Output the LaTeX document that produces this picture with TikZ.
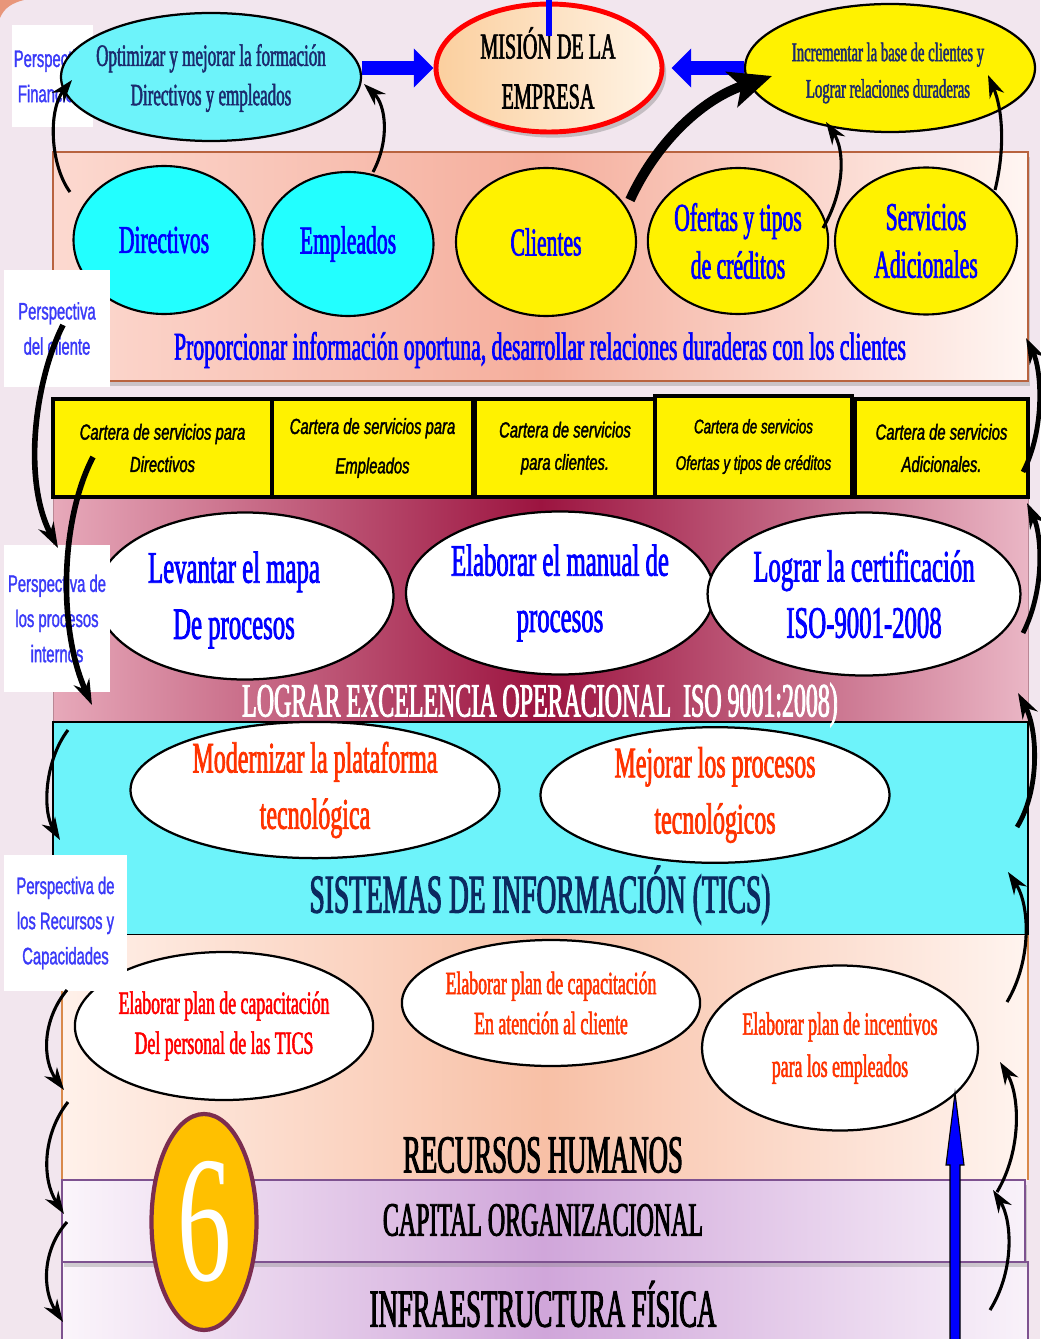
\documentclass[tikz,border=0pt]{standalone}
\usepackage{fontspec}
\usepackage{graphicx}
\usetikzlibrary{arrows.meta,shapes.geometric,shadows}
\newfontfamily\cnd[FakeStretch=0.55,FakeBold=1.6]{Liberation Serif}
\newfontfamily\cndh[FakeStretch=0.5,FakeBold=1.8]{Liberation Serif}
\newfontfamily\narrowsans[FakeStretch=0.62,FakeBold=1.2]{Liberation Sans}
\newfontfamily\cartfont[FakeStretch=0.68,FakeBold=1.6]{Liberation Sans}
\newfontfamily\digitfont[FakeStretch=0.6]{Liberation Serif}
\newcommand\fs[2]{\fontsize{#1}{#2}\selectfont}
\definecolor{bgc}{HTML}{F2E6EE}
\definecolor{persp}{HTML}{3A3AF8}
\definecolor{navy}{HTML}{1B2A6E}
\definecolor{navyB}{HTML}{0B2A60}
\definecolor{aqua}{HTML}{6DF3FA}
\definecolor{aquaB}{HTML}{22FFFF}
\definecolor{redor}{HTML}{FF3300}
\definecolor{gold}{HTML}{FFC000}
\definecolor{plum}{HTML}{7B2D4F}
\definecolor{brownedge}{HTML}{B8633F}
\definecolor{orangeedge}{HTML}{D9894A}
\definecolor{purpleedge}{HTML}{7E5290}
\definecolor{pinkL}{HTML}{FCD9D0}
\definecolor{pinkM}{HTML}{F5AE9C}
\definecolor{pinkR}{HTML}{FFF6F3}
\definecolor{marL}{HTML}{E7A9BA}
\definecolor{marM}{HTML}{9C1440}
\definecolor{marR}{HTML}{EAB6C5}
\definecolor{peachL}{HTML}{FFF1EA}
\definecolor{peachM}{HTML}{F8C0A6}
\definecolor{peachR}{HTML}{FFF4EF}
\definecolor{lavL}{HTML}{FBF5FB}
\definecolor{lavM}{HTML}{D0A6DA}
\definecolor{lavR}{HTML}{F9F2FA}
\definecolor{misL}{HTML}{FBCF9E}
\definecolor{misR}{HTML}{FFF4E6}
\definecolor{cornerc}{HTML}{E8967A}

\begin{document}
\begin{tikzpicture}[x=0.025cm,y=-0.025cm,
  ell/.style 2 args={ellipse,inner sep=0pt,minimum width=#1*0.025cm,minimum height=#2*0.025cm,align=center},
  outline/.style={draw=black,line width=1.6pt},
  persbox/.style 2 args={fill=white,inner sep=0pt,minimum width=#1*0.025cm,minimum height=#2*0.025cm,
    text=persp,font=\narrowsans\fs{17}{25},align=center},
  cartbox/.style 2 args={draw=black,line width=2.6pt,fill=yellow,inner sep=0pt,
    minimum width=#1*0.025cm,minimum height=#2*0.025cm,align=center,font=\cartfont\itshape\fs{15.5}{23}},
  thinarrow/.style={line width=2.2pt,-{Stealth[length=16pt,width=11pt]}},
  heavyarrow/.style={line width=3.4pt,-{Stealth[length=18pt,width=12pt]}},
  bigarrow/.style={line width=7pt,-{Stealth[length=30pt,width=26pt,inset=7pt]}},
  bluepush/.style={draw=blue,line width=10pt,-{Triangle[length=14pt,width=27pt]}},
  heading/.style={font=\cndh\fs{#1}{#1}},
  bandshadow/.style={drop shadow={opacity=0.35,shadow xshift=1.5pt,shadow yshift=-3.5pt}},
]
\useasboundingbox (0,0) rectangle (1040,1339);
\fill[bgc] (0,0) rectangle (1040,1339);
\fill[cornerc] (0,0) -- (24,0) .. controls (12,3) and (4,8) .. (0,18) -- cycle;

% ---------- bands ----------
\shade[left color=pinkL,right color=pinkR,middle color=pinkM,bandshadow] (53,152) rectangle (1028,381);
\draw[brownedge,line width=1pt] (53,152) rectangle (1028,381);

\shade[left color=marL,right color=marR,middle color=marM] (53,497) rectangle (1028,722);
\draw[marL!80!black,line width=0.6pt] (53,497) rectangle (1028,722);

\fill[aqua] (53,722) rectangle (1028,935);
\draw[black,line width=2pt] (53,722) rectangle (1028,935);

\shade[left color=peachL,right color=peachR,middle color=peachM] (62,935) rectangle (1028,1180);
\draw[orangeedge,line width=1pt] (62,935) -- (62,1180) (1028,935) -- (1028,1180);

\shade[left color=lavL,right color=lavR,middle color=lavM] (62,1262) rectangle (1028,1345);
\draw[purpleedge,line width=1.2pt] (62,1262) rectangle (1028,1345);
\shade[left color=lavL,right color=lavR,middle color=lavM,bandshadow] (62,1180) rectangle (1025,1262);
\draw[purpleedge,line width=1.2pt] (62,1180) rectangle (1025,1262);

% ---------- service portfolio row ----------
\node[cartbox={219}{98}] (c1) at (162.5,448) {Cartera de servicios para\\Directivos};
\node[cartbox={201}{98},font=\cartfont\itshape\fs{15.5}{28}] (c2) at (372.5,448) {Cartera de servicios para\\Empleados};
\node[cartbox={180}{98}] (c3) at (565,448) {Cartera de servicios\\para clientes.};
\node[cartbox={197}{101},font=\cartfont\itshape\fs{14}{26}] (c4) at (753.5,446.5) {Cartera de servicios\\Ofertas y tipos de créditos};
\node[cartbox={173}{98}] (c5) at (941.5,448) {Cartera de servicios\\Adicionales.};

% ---------- financial perspective label (partly hidden) ----------
\node[persbox={81}{102}] (pfin) at (52.5,76) {Perspectiva\\Financiera};

% ---------- top row ----------
\node[ell={300}{128},fill=aqua,outline] (opt) at (211,77) {};
\node[font=\cnd\fs{22}{28},text=navy,align=center] (optt) at (211,78)
  {Optimizar y mejorar la formación\\Directivos y empleados};
\node[ell={226}{128},draw=red,line width=3.5pt,left color=misL,right color=misR,
  drop shadow={opacity=0.4,shadow xshift=3pt,shadow yshift=-4pt}] (mis) at (549,68) {};
\node[font=\cnd\fs{26}{35.5},align=center] (mist) at (548,68) {MISIÓN DE LA\\EMPRESA};
\node[ell={290}{128},fill=yellow,outline] (inc) at (890,68) {};
\node[font=\cnd\fs{19}{26},text=navy,align=center] (inct) at (888,73)
  {Incrementar la base de clientes y\\Lograr relaciones duraderas};

% ---------- customer perspective ----------
\tikzset{circ/.style={draw=black,line width=1.5pt,text=blue,font=\cnd\fs{28}{34}}}
\node[ell={181}{148},fill=aquaB,circ] (dir) at (164,240) {Directivos};
\node[ell={171}{144},fill=aquaB,circ] (emp) at (348,244) {Empleados};
\node[ell={180}{148},fill=yellow,circ] (cli) at (546,242) {Clientes};
\node[ell={180}{146},fill=yellow,circ] (ofe) at (738,241) {Ofertas y tipos\\de créditos};
\node[ell={182}{147},fill=yellow,circ] (ser) at (926,241) {Servicios\\Adicionales};
\node[text=blue,font=\cnd\fs{28}{28}] (prop) at (540,350)
  {Proporcionar información oportuna, desarrollar relaciones duraderas con los clientes};

% ---------- internal processes ----------
\tikzset{proc/.style={fill=white,outline,text=blue,font=\cnd\fs{32}{40}}}
\node[ell={297}{167},proc] (lev) at (245,596) {};
\node[text=blue,font=\cnd\fs{32}{40},align=center] (levt) at (234,600) {Levantar el mapa\\De procesos};
\node[ell={300}{163},proc] (man) at (560,593) {Elaborar el manual de\\procesos};
\node[ell={296}{163},proc] (cer) at (864,594) {Lograr la certificación\\ISO-9001-2008};
\node[heading=34,text=white] (exc) at (540,705) {LOGRAR EXCELENCIA OPERACIONAL\ \ ISO 9001:2008)};

% ---------- information systems ----------
\tikzset{tics/.style={fill=white,outline,text=redor,font=\cnd\fs{31}{40}}}
\node[ell={369}{126},tics] (mod) at (315,790) {Modernizar la plataforma\\tecnológica};
\node[ell={349}{114},tics] (mej) at (715,795) {Mejorar los procesos\\tecnológicos};
\node[heading=39,text=navyB] (sis) at (540,895) {SISTEMAS DE INFORMACIÓN (TICS)};

% ---------- human resources ----------
\tikzset{rh/.style={fill=white,outline,text=redor,font=\cnd\fs{23}{28.5}}}
\node[ell={277}{148},rh,text=red] (hr1) at (224,1026) {Elaborar plan de capacitación\\Del personal de las TICS};
\node[ell={271}{126},rh] (hr2) at (551,1003) {Elaborar plan de capacitación\\En atención al cliente};
\node[ell={271}{165},rh,font=\cnd\fs{23}{30}] (hr3) at (840,1048) {Elaborar plan de incentivos\\para los empleados};
\node[heading=38] (rhum) at (543,1155) {RECURSOS HUMANOS};
\node[heading=34] (capo) at (543,1220) {CAPITAL ORGANIZACIONAL};
\node[heading=38] (infr) at (543,1304) {INFRAESTRUCTURA FÍSICA};

\node[ell={105}{216},fill=gold,draw=plum,line width=3pt,text=white,font=\digitfont\fs{128}{128}] (six) at (204,1222) {6};

% ---------- remaining perspective labels ----------
\node[persbox={106}{117}] (pcli) at (57,328.5) {Perspectiva\\del cliente};
\node[persbox={106}{147}] (ppro) at (57,618.5) {Perspectiva de\\los procesos\\internos};
\node[persbox={123}{136}] (prec) at (65.5,923) {Perspectiva de\\los Recursos y\\Capacidades};

% ---------- blue pushes toward the mission ----------
\draw[bluepush] (opt.east |- mis.west) -- (mis.west);
\draw[bluepush,shorten >=5pt] (inc.west |- mis.east) -- (mis.east);
\coordinate (mtop) at (549,0);
\coordinate (mtopend) at (549,36);
\draw[blue,line width=4pt] (mtop) -- (mtopend);

% ---------- upward blue arrow to the incentive plan ----------
\coordinate (tipB) at (955,1093);
\draw[fill=blue,draw=black,line width=0.8pt] (tipB) -- ++(9,72) -- ++(-4,0) -- ++(0,180)
  -- ++(-10,0) -- ++(0,-180) -- ++(-4,0) -- cycle;

% ---------- curved links, top ----------
\coordinate (a1s) at (70,192);   \coordinate (a1e) at (72,80);
\coordinate (a2s) at (373,172);  \coordinate (a2e) at (364,84);
\coordinate (a3s) at (630,200);  \coordinate (a3e) at (772,76);
\coordinate (a4s) at (823,228);  \coordinate (a4e) at (826,122);
\coordinate (a5s) at (995,190);  \coordinate (a5e) at (988,75);
\draw[thinarrow] (a1s) .. controls (50,165) and (48,110) .. (a1e);
\draw[thinarrow] (a2s) .. controls (390,140) and (386,105) .. (a2e);
\draw[bigarrow] (a3s) .. controls (655,145) and (700,100) .. (a3e);
\draw[thinarrow] (a4s) .. controls (845,190) and (845,150) .. (a4e);
\draw[thinarrow] (a5s) .. controls (1005,150) and (1003,110) .. (a5e);

% ---------- curved links, left side ----------
\coordinate (l1s) at (63,325);   \coordinate (l1e) at (58,548);
\coordinate (l2s) at (93,457);   \coordinate (l2e) at (92,705);
\coordinate (l3s) at (68,730);   \coordinate (l3e) at (60,840);
\coordinate (l4s) at (67,990);   \coordinate (l4e) at (64,1090);
\coordinate (l5s) at (68,1102);  \coordinate (l5e) at (64,1214);
\coordinate (l6s) at (67,1222);  \coordinate (l6e) at (63,1322);
\draw[heavyarrow,line width=4pt] (l1s) .. controls (35,380) and (22,480) .. (l1e);
\draw[heavyarrow,line width=4pt] (l2s) .. controls (60,520) and (58,630) .. (l2e);
\draw[thinarrow] (l3s) .. controls (45,760) and (42,810) .. (l3e);
\draw[thinarrow] (l4s) .. controls (42,1020) and (42,1060) .. (l4e);
\draw[thinarrow] (l5s) .. controls (42,1135) and (42,1180) .. (l5e);
\draw[thinarrow] (l6s) .. controls (42,1250) and (42,1290) .. (l6e);

% ---------- curved links, right side ----------
\coordinate (r1s) at (1023,472);  \coordinate (r1e) at (1026,338);
\coordinate (r2s) at (1023,633);  \coordinate (r2e) at (1027,503);
\coordinate (r3s) at (1017,827);  \coordinate (r3e) at (1018,693);
\coordinate (r4s) at (1007,1002); \coordinate (r4e) at (1008,872);
\coordinate (r5s) at (997,1192);  \coordinate (r5e) at (1000,1062);
\coordinate (r6s) at (990,1310);  \coordinate (r6e) at (993,1190);
\draw[heavyarrow] (r1s) .. controls (1045,430) and (1042,370) .. (r1e);
\draw[heavyarrow] (r2s) .. controls (1045,590) and (1042,535) .. (r2e);
\draw[heavyarrow] (r3s) .. controls (1040,790) and (1038,730) .. (r3e);
\draw[thinarrow] (r4s) .. controls (1032,960) and (1030,905) .. (r4e);
\draw[thinarrow] (r5s) .. controls (1022,1150) and (1020,1095) .. (r5e);
\draw[thinarrow] (r6s) .. controls (1015,1270) and (1012,1220) .. (r6e);
\end{tikzpicture}
\end{document}
